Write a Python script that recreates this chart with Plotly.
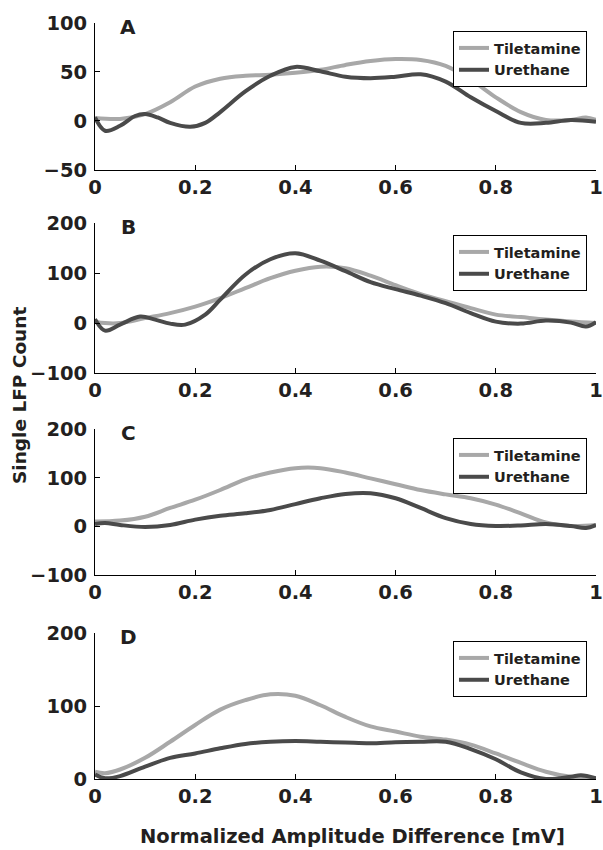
import plotly.graph_objects as go

# ---------------- data ----------------
x_tick_vals = [0, 0.2, 0.4, 0.6, 0.8, 1]
x_tick_text = ["0", "0.2", "0.4", "0.6", "0.8", "1"]
series_names = ["Tiletamine", "Urethane"]
panel_letters = ["A", "B", "C", "D"]

# Panel A
a_tile_x = [0, 0.05, 0.1, 0.15, 0.2, 0.25, 0.3, 0.35, 0.4, 0.45, 0.5, 0.55, 0.6, 0.65, 0.7, 0.75, 0.8, 0.85, 0.9, 0.95, 0.98, 1.0]
a_tile_y = [3, 2, 7, 19, 35, 43, 46, 47, 49, 52, 57, 61, 63, 62, 56, 42, 24, 9, 1, 1, 3.5, 1]
a_ure_x = [0, 0.02, 0.05, 0.08, 0.1, 0.125, 0.15, 0.19, 0.22, 0.25, 0.3, 0.35, 0.4, 0.45, 0.5, 0.55, 0.6, 0.65, 0.7, 0.75, 0.8, 0.85, 0.9, 0.95, 1.0]
a_ure_y = [3.5, -10, -5, 5, 7, 3.5, -2, -6, -2, 9, 30, 46, 55, 50.5, 45, 43.5, 45, 47.5, 40, 24, 10, -2, -2, 1, -1]
a_y_ticks = [-50, 0, 50, 100]

# Panel B
b_tile_x = [0, 0.02, 0.05, 0.1, 0.15, 0.2, 0.25, 0.3, 0.35, 0.4, 0.45, 0.5, 0.55, 0.6, 0.65, 0.7, 0.75, 0.8, 0.85, 0.9, 0.95, 1.0]
b_tile_y = [3, 0, 0, 10, 20, 33, 50, 70, 90, 105, 113, 110, 95, 76, 58, 44, 30, 17, 12, 7, 3, 0]
b_ure_x = [0, 0.02, 0.05, 0.09, 0.12, 0.15, 0.18, 0.22, 0.25, 0.3, 0.35, 0.4, 0.45, 0.5, 0.55, 0.6, 0.65, 0.7, 0.75, 0.8, 0.85, 0.9, 0.95, 0.98, 1.0]
b_ure_y = [8, -15, -3, 13, 7, -1, -3, 17, 47, 97, 128, 140, 125, 104, 82, 68, 55, 40, 20, 3, -1, 5, 1, -7, 2]
b_y_ticks = [-100, 0, 100, 200]

# Panel C
c_tile_x = [0, 0.05, 0.1, 0.15, 0.2, 0.25, 0.3, 0.35, 0.4, 0.45, 0.5, 0.55, 0.6, 0.65, 0.7, 0.75, 0.8, 0.85, 0.9, 0.95, 1.0]
c_tile_y = [10, 12, 20, 38, 55, 75, 97, 111, 120, 120, 111, 99, 87, 75, 66, 58, 45, 27, 8, 1, 3]
c_ure_x = [0, 0.02, 0.05, 0.1, 0.15, 0.2, 0.25, 0.3, 0.35, 0.4, 0.45, 0.5, 0.55, 0.6, 0.65, 0.7, 0.75, 0.8, 0.85, 0.9, 0.95, 0.98, 1.0]
c_ure_y = [5, 7, 3, -1, 3, 14, 22, 27, 34, 46, 58, 67, 68.5, 58, 38, 17, 5, 1, 2, 5, 1, -3, 3]
c_y_ticks = [-100, 0, 100, 200]

# Panel D
d_tile_x = [0, 0.02, 0.05, 0.1, 0.15, 0.2, 0.25, 0.3, 0.35, 0.4, 0.45, 0.5, 0.55, 0.6, 0.65, 0.7, 0.75, 0.8, 0.85, 0.9, 0.95, 1.0]
d_tile_y = [10, 8, 13, 29, 51, 74, 95, 108, 116, 114, 101, 85, 72, 65, 58, 54, 47, 35, 22, 10, 3, 1]
d_ure_x = [0, 0.02, 0.05, 0.1, 0.15, 0.2, 0.25, 0.3, 0.35, 0.4, 0.45, 0.5, 0.55, 0.6, 0.65, 0.7, 0.75, 0.8, 0.85, 0.9, 0.95, 0.97, 1.0]
d_ure_y = [6, 1, 4, 17, 29, 35, 42, 48, 51, 52, 51, 50, 49, 50.5, 51, 51, 41, 27, 9, 0, 3, 5, 1]
d_y_ticks = [0, 100, 200]

panel_data = [
    (a_tile_x, a_tile_y, a_ure_x, a_ure_y, a_y_ticks),
    (b_tile_x, b_tile_y, b_ure_x, b_ure_y, b_y_ticks),
    (c_tile_x, c_tile_y, c_ure_x, c_ure_y, c_y_ticks),
    (d_tile_x, d_tile_y, d_ure_x, d_ure_y, d_y_ticks),
]

# ---------------- layout / style ----------------
W, H = 603, 850
X_LEFT, X_RIGHT = 95, 596
# (top px, bottom px) of each plot area
panel_px = [(22.7, 170), (223.3, 373), (429.3, 575), (633, 779)]
legend_top_px = [31, 235, 438, 641]
LEGEND_RIGHT_PX = 587
colors = ["#a8a8a8", "#4a4a4a"]
FONT = "DejaVu Sans"
TXT = "#231f20"

fig = go.Figure()
layout = dict(
    width=W, height=H,
    margin=dict(l=0, r=0, t=0, b=0, pad=0, autoexpand=False),
    paper_bgcolor="white", plot_bgcolor="white",
    font=dict(family=FONT, color=TXT),
    annotations=[],
)

def px_to_py(p):
    return 1 - p / H

for i, (tx, ty, ux, uy, yt) in enumerate(panel_data):
    n = "" if i == 0 else str(i + 1)
    leg = "legend" + n
    for name, xs, ys, col in ((series_names[0], tx, ty, colors[0]),
                              (series_names[1], ux, uy, colors[1])):
        fig.add_trace(go.Scatter(
            x=xs, y=ys, mode="lines", name=name,
            line=dict(color=col, width=4, shape="spline", smoothing=1.0),
            xaxis="x" + n, yaxis="y" + n, legend=leg, showlegend=True,
        ))
    top, bot = panel_px[i]
    layout["xaxis" + n] = dict(
        domain=[X_LEFT / W, X_RIGHT / W], range=[0, 1], anchor="y" + n,
        tickvals=x_tick_vals, ticktext=x_tick_text,
        ticks="inside", ticklen=5, tickwidth=1, tickcolor="black",
        showline=True, linecolor="black", linewidth=1,
        showgrid=False, zeroline=False, automargin=False,
        tickfont=dict(family=FONT, size=19.5, weight="bold", color=TXT),
    )
    layout["yaxis" + n] = dict(
        domain=[px_to_py(bot), px_to_py(top)], range=[yt[0], yt[-1]], anchor="x" + n,
        tickvals=yt,
        ticks="inside", ticklen=5, tickwidth=1, tickcolor="black",
        showline=True, linecolor="black", linewidth=1,
        showgrid=False, zeroline=False, automargin=False,
        tickfont=dict(family=FONT, size=19.5, weight="bold", color=TXT),
        ticklabelstandoff=3,
    )
    layout[leg] = dict(
        x=LEGEND_RIGHT_PX / W, y=px_to_py(legend_top_px[i]),
        xanchor="right", yanchor="top",
        bgcolor="white", bordercolor="black", borderwidth=1,
        font=dict(family=FONT, size=14.5, weight="bold", color=TXT),
        tracegroupgap=0, itemwidth=30,
    )
    layout["annotations"].append(dict(
        text=panel_letters[i], x=128 / W, y=px_to_py(top + 4),
        xref="paper", yref="paper", xanchor="center", yanchor="middle",
        showarrow=False, font=dict(family=FONT, size=20, weight="bold", color=TXT),
    ))

layout["annotations"].append(dict(
    text="Single LFP Count", x=20 / W, y=px_to_py(396),
    xref="paper", yref="paper", xanchor="center", yanchor="middle",
    textangle=-90, showarrow=False,
    font=dict(family=FONT, size=18.5, weight="bold", color=TXT),
))
layout["annotations"].append(dict(
    text="Normalized Amplitude Difference [mV]", x=352 / W, y=px_to_py(836),
    xref="paper", yref="paper", xanchor="center", yanchor="middle",
    showarrow=False, font=dict(family=FONT, size=19.5, weight="bold", color=TXT),
))

fig.update_layout(**layout)
fig.write_html("out.html")
